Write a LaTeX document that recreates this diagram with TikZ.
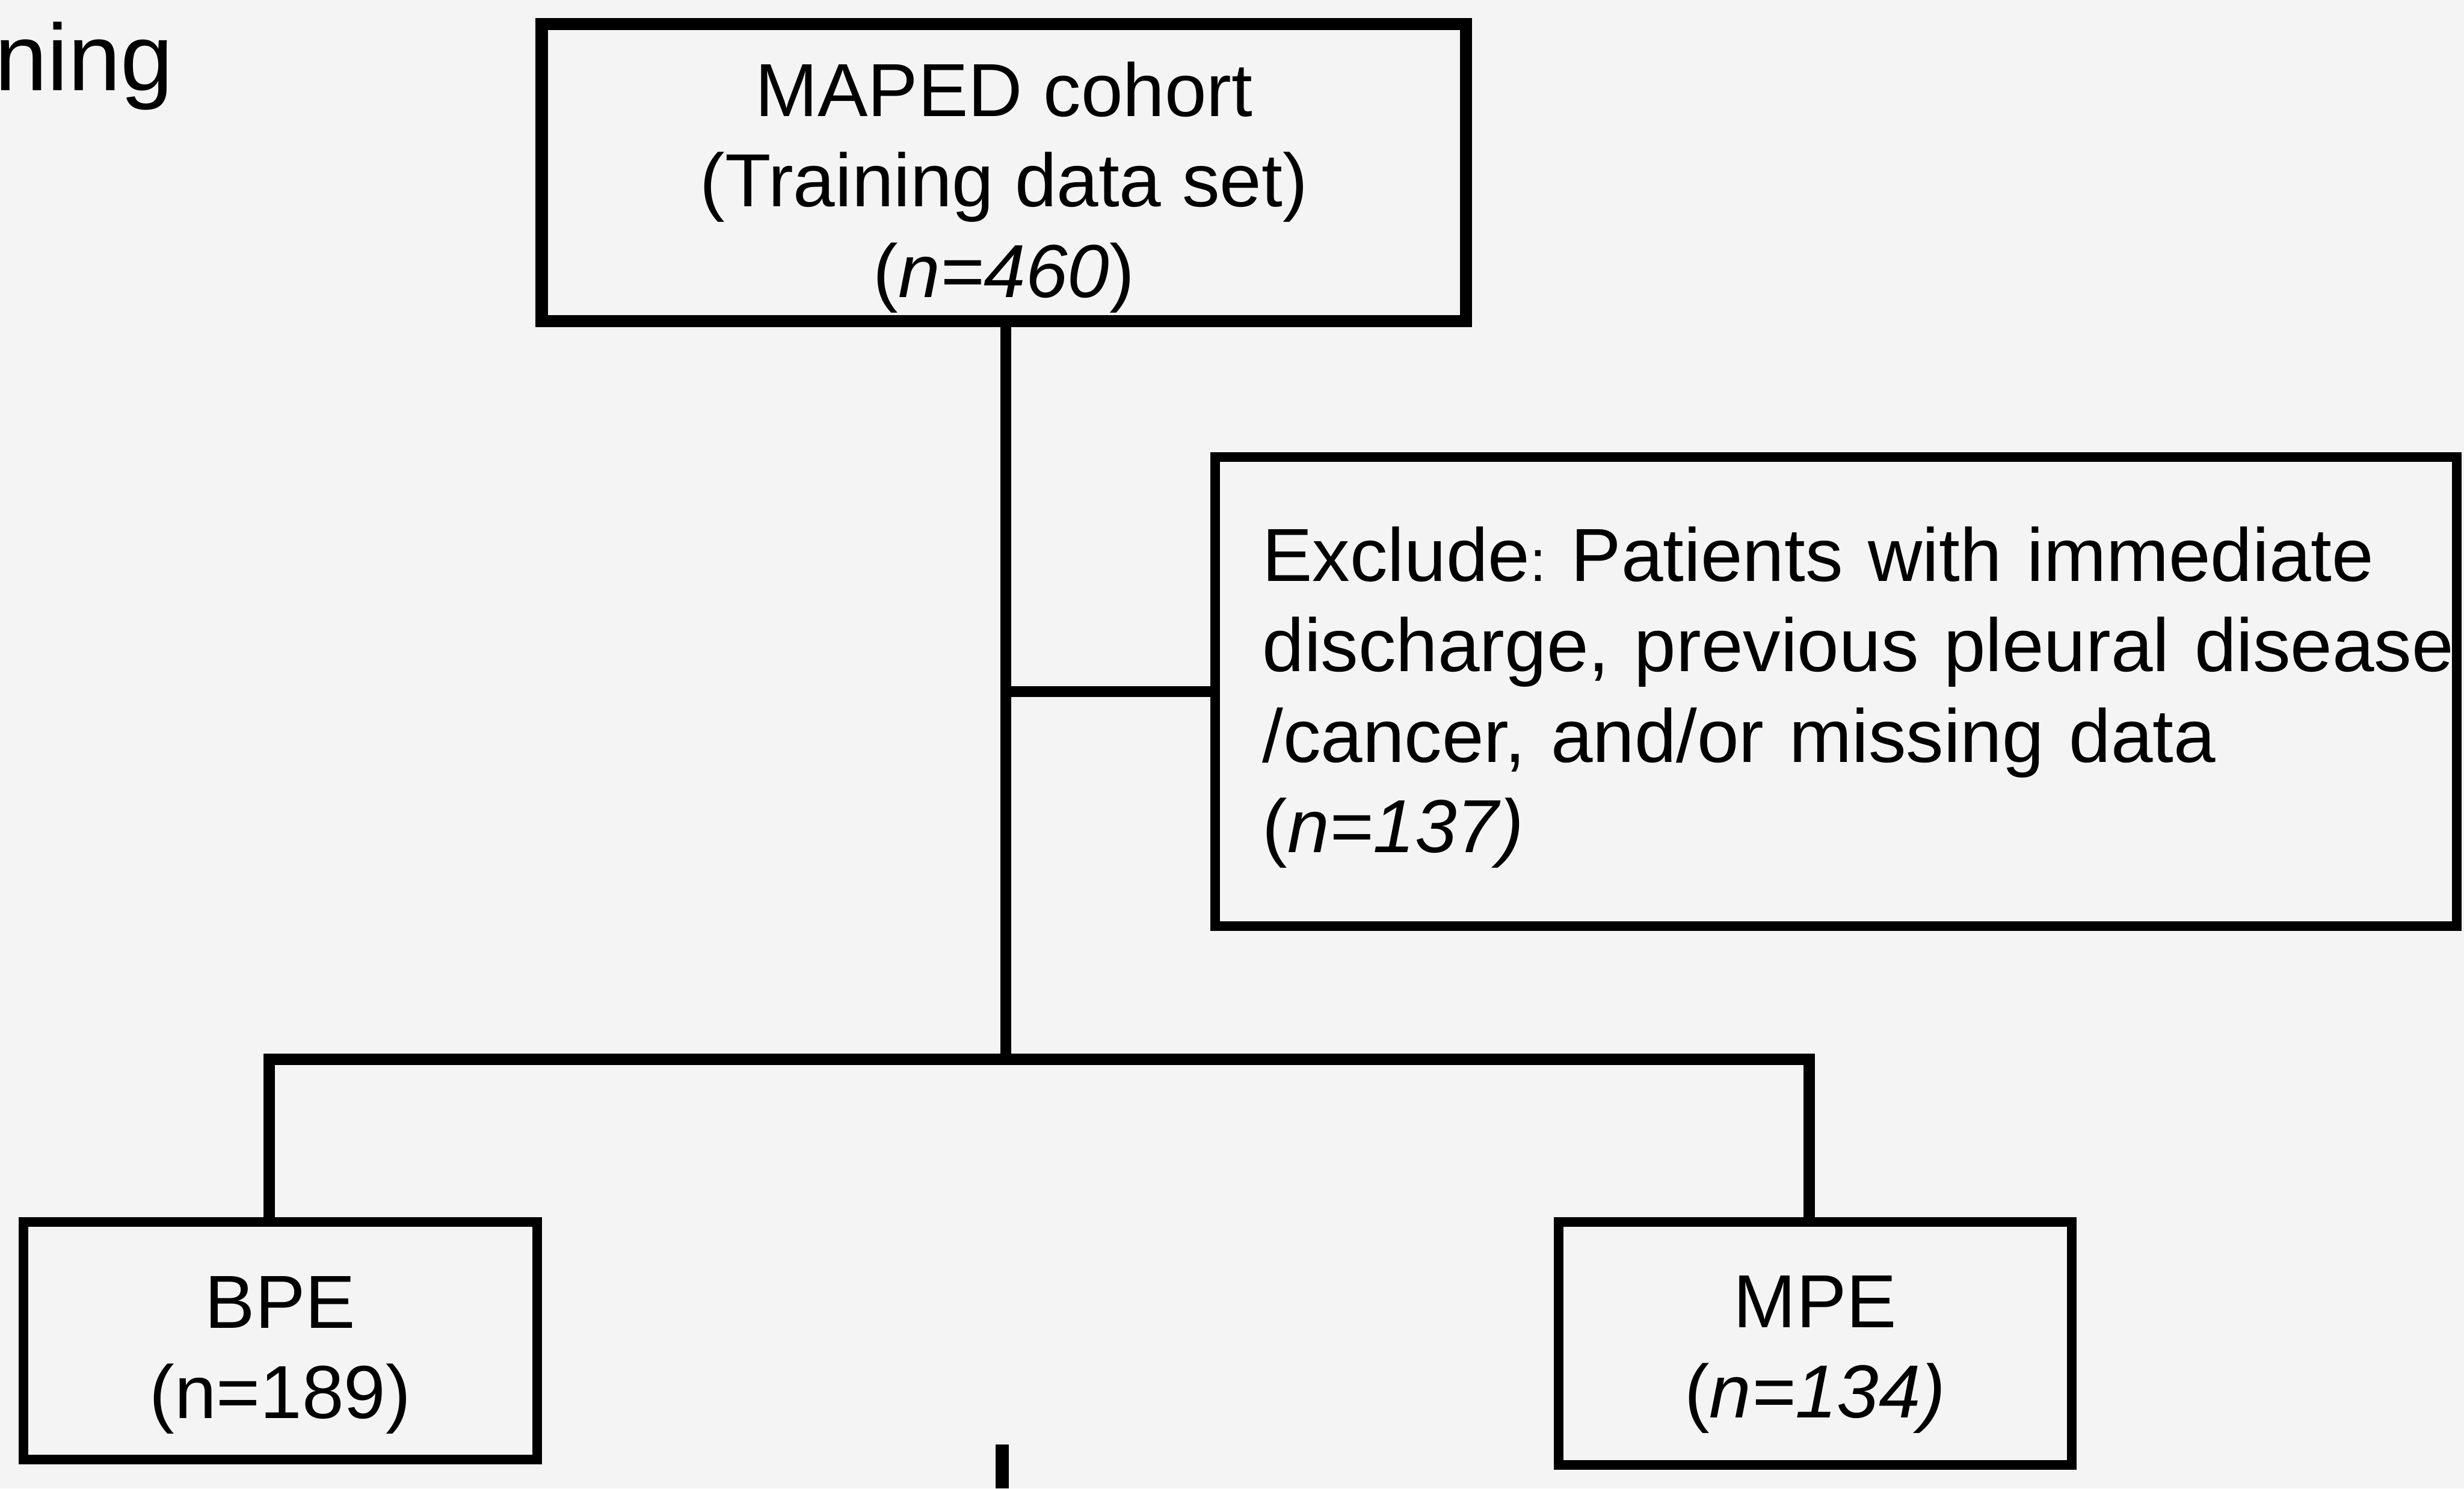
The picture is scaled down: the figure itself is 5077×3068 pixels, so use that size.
\documentclass[tikz,border=0pt]{standalone}
\usepackage{fontspec}
\setmainfont{Liberation Sans}
\usepackage{tikz}
\usetikzlibrary{positioning}
\definecolor{paper}{HTML}{F4F4F4}
\newcommand{\padtop}[1]{\rule{0pt}{#1}}
\frenchspacing
\tikzset{
  every picture/.style = {
    x = 0.1pt,
    y = -0.1pt,
  }
  ,
  box/.style = {
    rectangle,
    draw,
    line width = 2pt,
    align = center,
    font = \fontsize{15.5}{18.65}\selectfont,
    inner sep = 0pt
  }
  , % lines between boxes
  link/.style = {
    line width = 2.2pt
  }
}

\begin{document}
\begin{tikzpicture}
  \fill[paper] (0,0) rectangle (5077,3068);
  \useasboundingbox (0,0) rectangle (5077,3068);
  \node[anchor=base west, inner sep=0pt, font=\fontsize{19.5}{24}\selectfont] at (-13,187) (title) {ning};
  \node[box, line width=2.5pt, minimum width=190.5pt, minimum height=61.2pt] at (2068.5,356) (cohort) {\padtop{17.2pt}MAPED cohort\\(Training data set)\\(\textit{n=460})};
  \node[box, align=left, text width=236.4pt, inner xsep=9.7pt, minimum height=96.7pt] at (3783,1425.5) (exclude) {\padtop{13.6pt}Exclude{\fontsize{12}{12}\selectfont:}\ Patients with immediate\\\mbox{discharge, previous pleural disease}\\/cancer, and/or missing data\\(\textit{n=137)}};
  \node[box, minimum width=105.9pt, minimum height=48.9pt] at (577.5,2763.5) (bpe) {\padtop{16.6pt}BPE\\(n=189)};
  \node[box, minimum width=105.8pt, minimum height=50pt] at (3740,2769) (mpe) {\padtop{15.2pt}MPE\\(\textit{n=134)}};
  \coordinate (fork) at (2072,2183);
  \coordinate (stub) at (2065,2977);
  \coordinate (cut) at (2065,3068);
  \draw[link] (cohort.south -| fork) -- (fork);
  \draw[link] (fork |- exclude.west) -- (exclude.west);
  \draw[link, line width=2.4pt] ([xshift=-2.25pt]bpe.north) |- (fork) -| ([xshift=-1.2pt]mpe.north);
  \draw[link, line width=2.7pt] (stub) -- (cut);
\end{tikzpicture}
\end{document}
